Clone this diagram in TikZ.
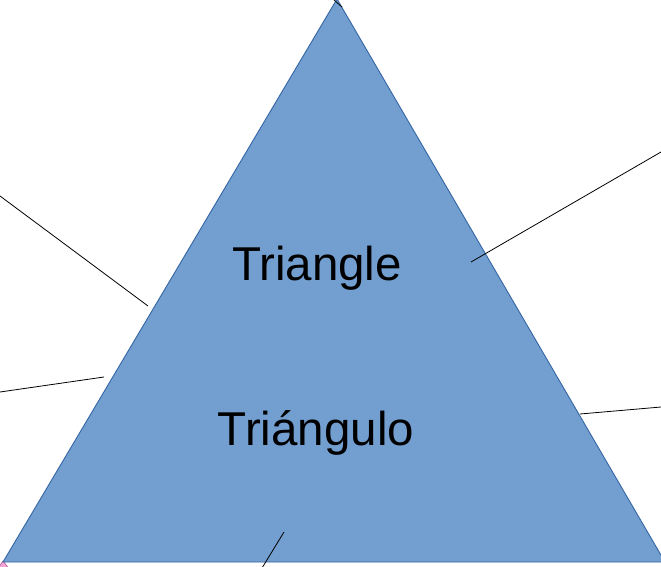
\documentclass[tikz,border=0pt]{standalone}
\usepackage{fontspec}
\setmainfont{Liberation Sans}
\definecolor{trifill}{HTML}{729FCF}
\definecolor{triline}{HTML}{3465A4}
\definecolor{pinkfill}{HTML}{F4A6D7}
\definecolor{pinkline}{HTML}{B05A9A}
\tikzset{
  lead/.style={draw=black, line width=0.8pt},
  label/.style={font=\fontsize{47.5}{52}\selectfont, inner sep=0pt, anchor=base},
}
\begin{document}
\begin{tikzpicture}[x=1pt,y=-1pt]
\useasboundingbox (0,0) rectangle (661,567);
\clip (0,0) rectangle (661,567);
% small pink shape at bottom-left corner
\fill[pinkfill, draw=pinkline, line width=0.6pt] (-4,571) -- (3,561) -- (11,571) -- cycle;
% main triangle
\coordinate (apex) at (337,-1);
\coordinate (bl) at (3,562);
\coordinate (br) at (665,562);
\filldraw[fill=trifill, draw=triline, line width=0.9pt] (apex) -- (br) -- (bl) -- cycle;
% texts
\node[label] (t1) at (317,280) {Triangle};
\node[label] (t2) at (316,445) {Triángulo};
% leader lines
\coordinate (a1) at (0,196);   \coordinate (b1) at (148,306);
\coordinate (a2) at (0,392);   \coordinate (b2) at (104,377);
\coordinate (a3) at (661,152); \coordinate (b3) at (471,262);
\coordinate (a4) at (661,407); \coordinate (b4) at (580,414);
\coordinate (a5) at (262,568); \coordinate (b5) at (284,532);
\coordinate (a6) at (334,0);   \coordinate (b6) at (342,7);
\draw[lead] (a1) -- (b1);
\draw[lead] (a2) -- (b2);
\draw[lead] (a3) -- (b3);
\draw[lead] (a4) -- (b4);
\draw[lead] (a5) -- (b5);
\draw[lead] (a6) -- (b6);
\end{tikzpicture}
\end{document}
